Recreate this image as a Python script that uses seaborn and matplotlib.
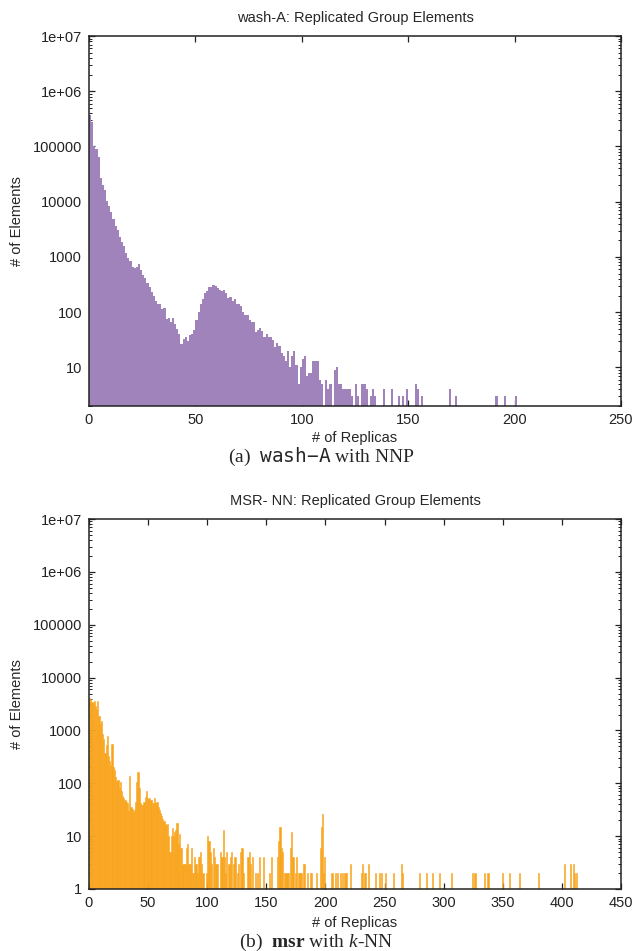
import numpy as np
import pandas as pd
import seaborn as sns
import matplotlib.pyplot as plt
from matplotlib.ticker import LogLocator, NullFormatter, NullLocator

# wash-A with NNP: elements per replica count, one value per count from 0
wash_dense_counts = [
    376000, 273000, 100000, 90000, 65000, 27000, 20000, 16600, 10500, 8300,
    6600, 4800, 3700, 3100, 2300, 1900, 1600, 1200, 940, 850,
    650, 620, 650, 730, 590, 480, 420, 340, 280, 230,
    193, 156, 142, 143, 112, 117, 74, 77, 65, 77,
    62, 49, 41, 26, 33, 36, 30, 38, 40, 47,
    71, 99, 138, 170, 218, 237, 280, 280, 316, 300,
    270, 250, 237, 250, 218, 177, 185, 156, 170, 143,
    138, 127, 99, 87, 87, 71, 65, 65, 43, 47,
    51, 45, 36, 40, 35, 36, 31, 23, 28, 24,
    18, 16, 13, 20, 10, 16, 20, 11, 5, 10,
    14, 16, 7, 8, 8, 13, 13, 13, 6, 5,
    0, 6, 4, 5, 0, 9, 10, 5, 5, 4,
    4, 4, 4, 3, 0, 5, 3, 0, 5, 5,
    4, 0, 3, 4, 3,
]
# scattered bars further right
wash_tail_replicas = [138, 142, 145, 147, 149, 153, 154, 156, 169, 172, 191, 195, 200]
wash_tail_counts = [4, 4, 3, 3, 4, 5, 4, 3, 4, 3, 3, 3, 3]

# msr with k-NN
msr_dense_counts = [
    4200, 3900, 3500, 3300, 3600, 2900, 2600, 3600, 1900, 1300,
    1500, 850, 700, 380, 520, 800, 330, 260, 220, 560,
    200, 180, 130, 110, 115, 80, 105, 70, 57, 52,
    48, 45, 42, 30, 135, 36, 33, 29, 31, 45,
    105, 165, 80, 42, 39, 39, 45, 55, 70, 52,
    50, 52, 48, 42, 42, 52, 42, 45, 36, 31,
    28, 24, 21, 19, 17, 16, 17, 10, 5, 10,
    14, 10, 12, 13, 18, 7, 11, 6, 6, 3,
    3, 3, 6, 7, 3, 3, 6, 2, 2, 4,
    3, 2, 4, 4, 5, 3, 2, 1, 0, 2,
    10, 8, 5, 3, 0, 6, 4, 3, 3, 0,
    0, 5, 4, 13, 4, 2, 5, 0, 3, 4,
    5, 0, 3, 4, 0, 2, 3, 0, 5, 6,
    2, 0, 0, 0, 4, 5,
]
msr_tail_replicas = [
    136, 138, 140, 142, 144, 147, 152, 154, 159, 160,
    161, 162, 163, 165, 166, 167, 168, 170, 171, 172,
    174, 175, 177, 178, 179, 181, 182, 184, 187, 188,
    192, 195, 196, 197, 198, 199, 205, 208, 210, 212,
    214, 216, 217, 221, 230, 231, 233, 236, 242, 245,
    247, 250, 257, 264, 265, 279, 285, 290, 296, 306,
    324, 326, 334, 337, 349, 355, 364, 380, 402, 407,
    409, 410, 412,
]
msr_tail_counts = [
    3, 4, 2, 2, 4, 4, 2, 4, 4, 8,
    15, 6, 5, 2, 2, 2, 2, 6, 12, 4,
    2, 4, 2, 2, 2, 3, 3, 2, 2, 2,
    2, 6, 15, 26, 2, 4, 2, 2, 2, 2,
    2, 2, 2, 3, 2, 3, 2, 3, 2, 2,
    2, 2, 2, 3, 2, 2, 2, 2, 2, 2,
    2, 2, 2, 2, 2, 2, 2, 2, 3, 3,
    3, 2, 2,
]

wash_xticks = [0, 50, 100, 150, 200, 250]
msr_xticks = [0, 50, 100, 150, 200, 250, 300, 350, 400, 450]
y_ticks = [1, 10, 100, 1000, 10000, 100000, 1e6, 1e7]
y_tick_labels = ["1", "10", "100", "1000", "10000", "100000", "1e+06", "1e+07"]


def to_frame(dense, tail_x, tail_y):
    reps = list(range(len(dense))) + list(tail_x)
    return pd.DataFrame({"replicas": reps, "elements": list(dense) + list(tail_y)})


wash_df = to_frame(wash_dense_counts, wash_tail_replicas, wash_tail_counts)
msr_df = to_frame(msr_dense_counts, msr_tail_replicas, msr_tail_counts)

sns.set_style("ticks")
plt.rcParams["font.family"] = ["Liberation Sans", "DejaVu Sans"]
plt.rcParams["mathtext.fontset"] = "custom"
plt.rcParams["mathtext.rm"] = "Liberation Serif"
plt.rcParams["mathtext.it"] = "Liberation Serif:italic"
plt.rcParams["mathtext.bf"] = "Liberation Serif:bold"
plt.rcParams["mathtext.tt"] = "DejaVu Sans Mono"

fig = plt.figure(figsize=(6.33, 9.51), dpi=100)
ax_top = fig.add_axes([0.1406, 0.5731, 0.8404, 0.389])
ax_bot = fig.add_axes([0.1406, 0.0652, 0.8404, 0.389])


def draw(ax, df, color, xmax, ymin, xticks, title, lw):
    sns.histplot(data=df, x="replicas", weights="elements", binwidth=1,
                 binrange=(0, df["replicas"].max() + 1), color=color, alpha=1,
                 linewidth=lw, edgecolor=color, ax=ax)
    ax.set_yscale("log")
    ax.set_xlim(0, xmax)
    ax.set_yticks(y_ticks, labels=y_tick_labels)
    ax.yaxis.set_minor_locator(LogLocator(base=10, subs=np.arange(2, 10)))
    ax.yaxis.set_minor_formatter(NullFormatter())
    ax.set_ylim(ymin, 1e7)
    ax.set_xticks(xticks)
    ax.xaxis.set_minor_locator(NullLocator())
    ax.tick_params(which="both", direction="in", top=True, right=True,
                   labelsize=10.5, color="#222222", labelcolor="#222222")
    ax.tick_params(which="major", length=4, width=0.9, pad=5)
    ax.tick_params(which="minor", length=2.2, width=0.7)
    for sp in ax.spines.values():
        sp.set_linewidth(1.1)
        sp.set_color("#222222")
    ax.set_title(title, fontsize=10.5, pad=10)
    ax.set_xlabel("# of Replicas", fontsize=10.5)
    ax.set_ylabel("# of Elements", fontsize=10.5)
    ax.yaxis.set_label_coords(-0.122, 0.5)


draw(ax_top, wash_df, "#a083bb", 250, 2, wash_xticks,
     "wash-A: Replicated Group Elements", 0)
draw(ax_bot, msr_df, "#f8a51c", 450, 1, msr_xticks,
     "MSR- NN: Replicated Group Elements", 0.4)
ax_top.xaxis.set_label_coords(0.5, -0.068)
ax_bot.xaxis.set_label_coords(0.5, -0.074)

# subfigure captions
fig.text(0.508, 1 - 457 / 951, r"(a)  $\mathtt{wash{-}A}$ with NNP",
         family="Liberation Serif", fontsize=14, ha="center", va="center")
fig.text(0.50, 1 - 942 / 951, r"(b)  $\mathbf{msr}$ with $k$-NN",
         family="Liberation Serif", fontsize=14, ha="center", va="center")

fig.savefig("out.png", dpi=100)
